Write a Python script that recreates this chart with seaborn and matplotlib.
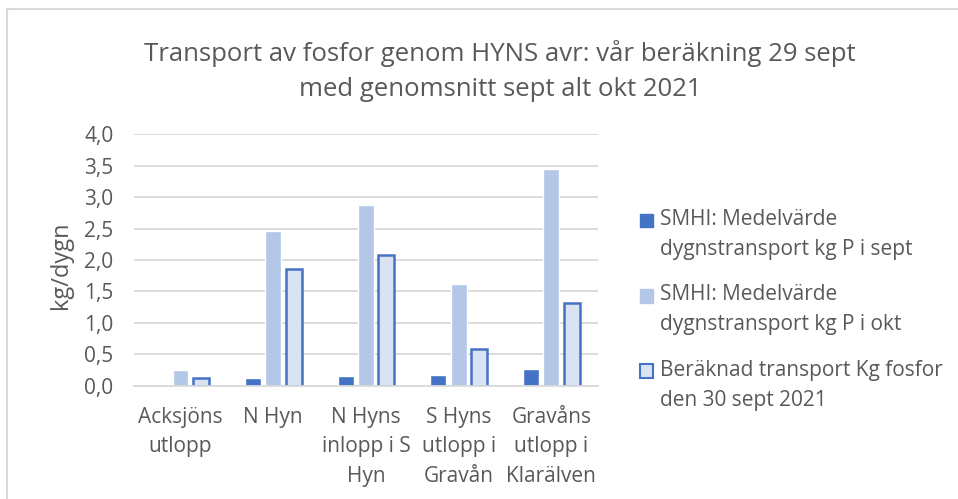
import matplotlib
matplotlib.use("Agg")
import matplotlib.pyplot as plt
import seaborn as sns
import pandas as pd
from matplotlib.lines import Line2D
from matplotlib.patches import Patch
from matplotlib.ticker import FuncFormatter

categories = ["Acksjöns\nutlopp", "N Hyn", "N Hyns\ninlopp i S\nHyn", "S Hyns\nutlopp i\nGravån", "Gravåns\nutlopp i\nKlarälven"]
series_names = ["SMHI: Medelvärde\ndygnstransport kg P i sept",
                "SMHI: Medelvärde\ndygnstransport kg P i okt",
                "Beräknad transport Kg fosfor\nden 30 sept 2021"]
sept_values = [0.0, 0.13, 0.15, 0.17, 0.26]
okt_values = [0.25, 2.46, 2.87, 1.61, 3.44]
calc_values = [0.13, 1.85, 2.08, 0.58, 1.32]
title = "Transport av fosfor genom HYNS avr: vår beräkning 29 sept\nmed genomsnitt sept alt okt 2021"
ylabel = "kg/dygn"

rows = []
for s, vals in zip(series_names, [sept_values, okt_values, calc_values]):
    for c, v in zip(categories, vals):
        rows.append({"cat": c, "series": s, "value": v})
df = pd.DataFrame(rows)

sns.set_theme(style="white")
FONT = ["Open Sans", "DejaVu Sans"]
plt.rcParams["font.family"] = FONT
TXT = "#595959"

fig = plt.figure(figsize=(9.58, 4.99), dpi=100)
ax = fig.add_axes([0.14, 0.227, 0.484, 0.504])

colors = ["#4472C4", "#B4C7E7", "#DAE3F3"]
sns.barplot(data=df, x="cat", y="value", hue="series", palette=colors,
            width=0.66, gap=0.22, ax=ax, legend=False, saturation=1)

for patch in ax.containers[2]:
    patch.set_edgecolor("#4472C4")
    patch.set_linewidth(1.8)

ax.set_ylim(0, 4.0)
ax.set_xlim(-0.5, 4.5)
ax.set_yticks([i * 0.5 for i in range(9)])
ax.yaxis.set_major_formatter(FuncFormatter(lambda v, p: f"{v:.1f}".replace(".", ",")))
ax.grid(axis="y", color="#D9D9D9", linewidth=1.3)
ax.set_axisbelow(True)
for sp in ["top", "right", "left"]:
    ax.spines[sp].set_visible(False)
ax.spines["bottom"].set_color("#D9D9D9")
ax.spines["bottom"].set_linewidth(1.3)
ax.tick_params(axis="y", length=0, labelsize=15, labelcolor=TXT, pad=15)
ax.tick_params(axis="x", length=0, labelsize=15, labelcolor=TXT, pad=15)
ax.set_xlabel("")
ax.set_ylabel(ylabel, fontsize=17, color=TXT)
ax.yaxis.set_label_coords(-0.131, 0.48)
for lbl in ax.get_xticklabels():
    lbl.set_horizontalalignment("center")
    lbl.set_multialignment("center")
    lbl.set_linespacing(1.55)

fig.text(0.522, 1 - 40 / 499, title, fontsize=18.5, color=TXT, ha="center", va="top",
         linespacing=1.53, multialignment="center")

handles = [Patch(facecolor=colors[0], edgecolor=colors[0]),
           Patch(facecolor=colors[1], edgecolor=colors[1]),
           Patch(facecolor=colors[2], edgecolor="#4472C4", linewidth=1.5)]
leg = fig.legend(handles, series_names, loc="upper left", bbox_to_anchor=(640 / 958, 1 - 209 / 499),
                 frameon=False, fontsize=15, labelcolor=TXT, handlelength=0.62,
                 handleheight=0.62, handletextpad=0.35, labelspacing=1.18,
                 borderpad=0, borderaxespad=0)
for t in leg.get_texts():
    t.set_linespacing(1.55)
for h in leg.legend_handles:
    h.set_y(h.get_y() + 10.5)

fig.add_artist(Line2D([7 / 958, 7 / 958], [0, 1 - 9 / 499], transform=fig.transFigure,
                      color="#D9D9D9", linewidth=1.5))
fig.add_artist(Line2D([7 / 958, 1], [1 - 9 / 499, 1 - 9 / 499], transform=fig.transFigure,
                      color="#D9D9D9", linewidth=1.5))

fig.savefig("out.png", dpi=100, facecolor="white")
